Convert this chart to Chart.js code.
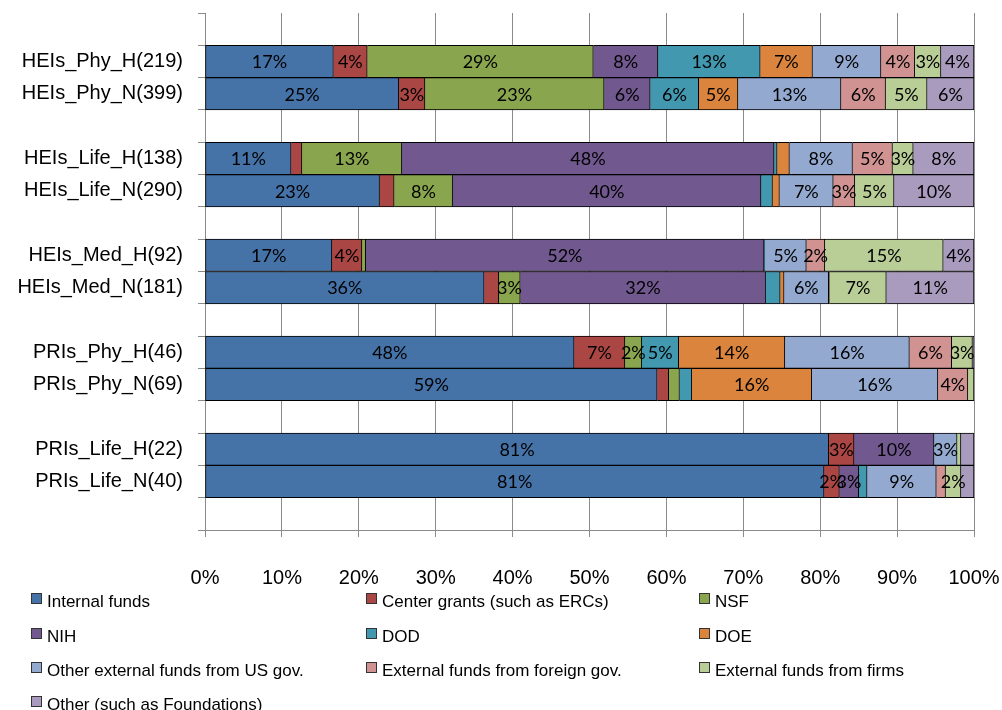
<!DOCTYPE html>
<html lang="en">
<head>
    <meta charset="UTF-8">
    <title>Funding sources</title>
    <script src="https://cdn.jsdelivr.net/npm/chart.js"></script>
    <style>
        body {
            margin: 0;
            background: #fff;
            font-family: 'Liberation Sans', Arial, sans-serif;
        }
        #wrap {
            position: relative;
            width: 1002px;
            height: 710px;
        }
        #legend .item {
            position: absolute;
            font-size: 17px;
            color: #000;
            white-space: nowrap;
            line-height: 20px;
        }
        #legend .box {
            display: inline-block;
            width: 9px;
            height: 9px;
            border: 1px solid #333;
            margin-right: 5px;
            vertical-align: 3px;
        }
    </style>
</head>
<body>
    <div id="wrap">
        <canvas id="chart" width="1002" height="710"></canvas>
        <div id="legend"></div>
    </div>
    <script>
        // Rows, top to bottom (blank rows are added between the pairs below)
        const categories = [
            'HEIs_Phy_H(219)', 'HEIs_Phy_N(399)',
            'HEIs_Life_H(138)', 'HEIs_Life_N(290)',
            'HEIs_Med_H(92)', 'HEIs_Med_N(181)',
            'PRIs_Phy_H(46)', 'PRIs_Phy_N(69)',
            'PRIs_Life_H(22)', 'PRIs_Life_N(40)'
        ];

        // Share of funding (%), one value per row above
        const internalFunds = [16.7, 25.2, 11.2, 22.7, 16.5, 36.3, 48.0, 58.8, 81.1, 80.5];
        const centerGrants  = [4.4, 3.4, 1.4, 1.9, 3.9, 1.9, 6.6, 1.5, 3.3, 2.0];
        const nsf           = [29.4, 23.3, 13.0, 7.6, 0.5, 2.8, 2.2, 1.4, 0, 0];
        const nih           = [8.4, 6.0, 48.4, 40.1, 51.8, 31.9, 0, 0, 10.4, 2.5];
        const dod           = [13.3, 6.3, 0.4, 1.5, 0.1, 1.9, 4.8, 1.6, 0, 1.1];
        const doe           = [6.8, 5.1, 1.6, 0.9, 0, 0.5, 13.8, 15.6, 0, 0];
        const otherUsGov    = [8.9, 13.4, 8.2, 7.0, 5.4, 5.8, 16.2, 16.4, 3.0, 9.0];
        const foreignGov    = [4.4, 5.8, 5.2, 2.8, 2.4, 0.1, 5.5, 3.9, 0, 1.2];
        const firms         = [3.4, 5.4, 2.7, 5.1, 15.4, 7.4, 2.7, 0.8, 0.5, 2.0];
        const otherFunds    = [4.3, 6.1, 7.9, 10.4, 4.0, 11.4, 0.2, 0, 1.7, 1.7];

        const xTicks = [0, 10, 20, 30, 40, 50, 60, 70, 80, 90, 100];

        const series = [
            { name: 'Internal funds', values: internalFunds, color: '#4572A7' },
            { name: 'Center grants (such as ERCs)', values: centerGrants, color: '#AA4643' },
            { name: 'NSF', values: nsf, color: '#89A54E' },
            { name: 'NIH', values: nih, color: '#71588F' },
            { name: 'DOD', values: dod, color: '#4198AF' },
            { name: 'DOE', values: doe, color: '#DB843D' },
            { name: 'Other external funds from US gov.', values: otherUsGov, color: '#93A9CF' },
            { name: 'External funds from foreign gov.', values: foreignGov, color: '#D19392' },
            { name: 'External funds from firms', values: firms, color: '#B9CD96' },
            { name: 'Other (such as Foundations)', values: otherFunds, color: '#A99BBD' }
        ];

        // Insert a blank slot before every pair and one at the end
        function withGaps(arr, blank) {
            const out = [];
            arr.forEach((v, i) => {
                if (i % 2 === 0) out.push(blank);
                out.push(v);
            });
            out.push(blank);
            return out;
        }

        const rowLabels = withGaps(categories, '');

        // Draws the percentage text inside each segment
        const barLabels = {
            id: 'barLabels',
            afterDatasetsDraw(chart) {
                const ctx = chart.ctx;
                ctx.save();
                ctx.font = '18px Lato, "Open Sans", sans-serif';
                ctx.fillStyle = '#000';
                ctx.textAlign = 'center';
                ctx.textBaseline = 'middle';
                chart.data.datasets.forEach((ds, i) => {
                    chart.getDatasetMeta(i).data.forEach((bar, j) => {
                        const v = ds.data[j];
                        if (v == null || v < 2) return;
                        const c = bar.getCenterPoint();
                        ctx.fillText(Math.round(v) + '%', c.x, c.y + 1);
                    });
                });
                ctx.restore();
            }
        };

        const gridGray = '#8a8a8a';

        const chart = new Chart(document.getElementById('chart'), {
            type: 'bar',
            data: {
                labels: rowLabels,
                datasets: series.map((s, i) => ({
                    label: s.name,
                    data: withGaps(s.values, null),
                    backgroundColor: s.color,
                    borderColor: '#000',
                    borderWidth: 1,
                    borderSkipped: i === 0 ? false : 'start',
                    barPercentage: 1,
                    categoryPercentage: 1
                }))
            },
            options: {
                indexAxis: 'y',
                responsive: false,
                animation: false,
                layout: { padding: { top: 13, right: 28, left: 0, bottom: 0 } },
                plugins: {
                    legend: { display: false },
                    tooltip: { enabled: false }
                },
                scales: {
                    x: {
                        stacked: true,
                        min: 0,
                        max: 100,
                        afterBuildTicks: scale => {
                            scale.ticks = xTicks.map(v => ({ value: v }));
                        },
                        afterFit: scale => {
                            scale.height = 180;
                            scale.paddingLeft = 0;
                            scale.paddingRight = 0;
                        },
                        grid: { color: gridGray, tickLength: 7, drawTicks: true },
                        border: { color: gridGray },
                        ticks: {
                            padding: 29,
                            color: '#000',
                            font: { family: '"Liberation Sans", Arial', size: 20 },
                            callback: v => v + '%'
                        }
                    },
                    y: {
                        stacked: true,
                        afterFit: scale => {
                            scale.width = 205;
                            scale.paddingTop = 0;
                            scale.paddingBottom = 0;
                        },
                        grid: {
                            offset: true,
                            drawOnChartArea: false,
                            drawTicks: true,
                            tickLength: 7,
                            color: gridGray
                        },
                        border: { color: gridGray },
                        ticks: {
                            autoSkip: false,
                            padding: 15,
                            color: '#000',
                            font: { family: '"Liberation Sans", Arial', size: 20 }
                        }
                    }
                }
            },
            plugins: [barLabels]
        });

        // Legend in three columns under the chart
        const legendCols = [31, 366, 699];
        const legendRows = [602, 637, 671, 705];
        const legend = document.getElementById('legend');
        chart.data.datasets.forEach((ds, i) => {
            const item = document.createElement('div');
            item.className = 'item';
            item.style.left = legendCols[i % 3] + 'px';
            item.style.top = (legendRows[Math.floor(i / 3)] - 10) + 'px';
            item.innerHTML = '<span class="box" style="background:' + ds.backgroundColor + '"></span>' + ds.label;
            legend.appendChild(item);
        });
    </script>
</body>
</html>
